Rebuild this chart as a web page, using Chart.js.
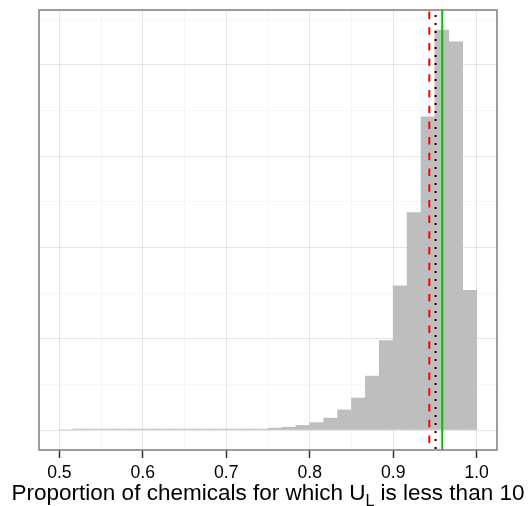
<!DOCTYPE html>
<html>
<head>
<meta charset="utf-8">
<script src="https://cdn.jsdelivr.net/npm/chart.js@4.4.0/dist/chart.umd.min.js"></script>
<style>
  html, body { margin: 0; padding: 0; background: #fff; }
  #wrap { width: 528px; height: 506px; }
</style>
</head>
<body>
<div id="wrap"><canvas id="hist" width="528" height="506"></canvas></div>
<script>
// histogram bins (centres, width 1/60) and counts
const binCenters = [0.5083, 0.5250, 0.5417, 0.5583, 0.5750, 0.5917, 0.6083, 0.6250, 0.6417, 0.6583,
                    0.6750, 0.6917, 0.7083, 0.7250, 0.7417, 0.7583, 0.7750, 0.7917, 0.8083, 0.8250,
                    0.8417, 0.8583, 0.8750, 0.8917, 0.9083, 0.9250, 0.9417, 0.9583, 0.9750, 0.9917];
const binCounts = [0, 1, 1, 1, 1, 1, 1, 1, 1, 1,
                   1, 1, 1, 1, 1, 2, 3, 5, 8, 13,
                   22, 35, 59, 98, 158, 238, 343, 438, 425, 153];

// reference lines
const dashedRef = 0.9433;
const dottedRef = 0.9508;
const solidRef = 0.9588;

// axis ticks / grid
const xGridValues = [0.5, 0.55, 0.6, 0.65, 0.7, 0.75, 0.8, 0.85, 0.9, 0.95, 1.0];
const xTickLabels = ['0.5', '0.6', '0.7', '0.8', '0.9', '1.0'];
const yGridValues = [0, 50, 100, 150, 200, 250, 300, 350, 400, 450];

const FONT = '"Liberation Sans", Arial, Helvetica, sans-serif';

const isMajorX = v => Math.abs(v * 10 - Math.round(v * 10)) < 1e-6;
const isMajorY = v => v % 100 === 0;

const overlay = {
  id: 'overlay',
  afterDatasetsDraw(chart) {
    const ctx = chart.ctx;
    const ca = chart.chartArea;
    const x = chart.scales.x;
    ctx.save();
    ctx.lineWidth = 2;
    ctx.lineCap = 'butt';

    ctx.strokeStyle = '#FF0000';
    ctx.setLineDash([7.5, 8.2]);
    ctx.lineDashOffset = -1.5;
    let px = x.getPixelForValue(dashedRef);
    ctx.beginPath(); ctx.moveTo(px, ca.top); ctx.lineTo(px, ca.bottom); ctx.stroke();

    ctx.strokeStyle = '#000000';
    ctx.setLineDash([2, 6]);
    ctx.lineDashOffset = -5;
    px = x.getPixelForValue(dottedRef);
    ctx.beginPath(); ctx.moveTo(px, ca.top); ctx.lineTo(px, ca.bottom); ctx.stroke();

    ctx.strokeStyle = '#00C000';
    ctx.setLineDash([]);
    px = x.getPixelForValue(solidRef);
    ctx.beginPath(); ctx.moveTo(px, ca.top); ctx.lineTo(px, ca.bottom); ctx.stroke();

    // panel border
    ctx.strokeStyle = '#7F7F7F';
    ctx.lineWidth = 1.5;
    ctx.strokeRect(ca.left, ca.top, ca.right - ca.left, ca.bottom - ca.top);
    ctx.restore();
  },
  afterDraw(chart) {
    // x axis title with subscript
    const ctx = chart.ctx;
    const ca = chart.chartArea;
    const main = 'Proportion of chemicals for which U';
    const sub = 'L';
    const rest = ' is less than 10';
    ctx.save();
    ctx.fillStyle = '#000';
    ctx.textBaseline = 'alphabetic';
    ctx.font = '22.5px ' + FONT;
    const w1 = ctx.measureText(main).width;
    const w3 = ctx.measureText(rest).width;
    ctx.font = '16px ' + FONT;
    const w2 = ctx.measureText(sub).width;
    let left = (ca.left + ca.right) / 2 - (w1 + w2 + w3) / 2;
    const base = 500;
    ctx.font = '22.5px ' + FONT;
    ctx.fillText(main, left, base);
    ctx.font = '16px ' + FONT;
    ctx.fillText(sub, left + w1, base + 6);
    ctx.font = '22.5px ' + FONT;
    ctx.fillText(rest, left + w1 + w2, base);
    ctx.restore();
  }
};

new Chart(document.getElementById('hist').getContext('2d'), {
  type: 'bar',
  data: {
    datasets: [{
      data: binCenters.map((c, i) => ({ x: c, y: binCounts[i] })),
      backgroundColor: '#BEBEBE',
      borderWidth: 0,
      barPercentage: 1,
      categoryPercentage: 1
    }]
  },
  options: {
    responsive: false,
    animation: false,
    devicePixelRatio: 1,
    layout: { padding: { left: 39, right: 31, top: 10, bottom: 0 } },
    plugins: { legend: { display: false }, tooltip: { enabled: false } },
    scales: {
      x: {
        type: 'linear',
        offset: false,
        min: 0.4756,
        max: 1.0244,
        afterBuildTicks: s => { s.ticks = xGridValues.map(v => ({ value: v })); },
        afterFit: s => { s.height = 56; },
        border: { display: false },
        grid: {
          offset: false,
          color: c => isMajorX(c.tick.value) ? '#E5E5E5' : '#F6F6F6',
          lineWidth: 1,
          tickLength: 8,
          tickWidth: 1.5,
          tickColor: c => isMajorX(c.tick.value) ? '#333333' : 'rgba(0,0,0,0)'
        },
        ticks: {
          autoSkip: false,
          maxRotation: 0,
          padding: 5,
          color: '#000',
          font: { family: FONT, size: 17.6 },
          callback: v => isMajorX(v) ? xTickLabels[Math.round(v * 10) - 5] : ''
        }
      },
      y: {
        min: -21.9,
        max: 459.9,
        afterBuildTicks: s => { s.ticks = yGridValues.map(v => ({ value: v })); },
        afterFit: s => { s.width = 0; },
        border: { display: false },
        grid: {
          drawTicks: false,
          color: c => isMajorY(c.tick.value) ? '#E5E5E5' : '#F6F6F6',
          lineWidth: 1
        },
        ticks: { display: false }
      }
    }
  },
  plugins: [overlay]
});
</script>
</body>
</html>
